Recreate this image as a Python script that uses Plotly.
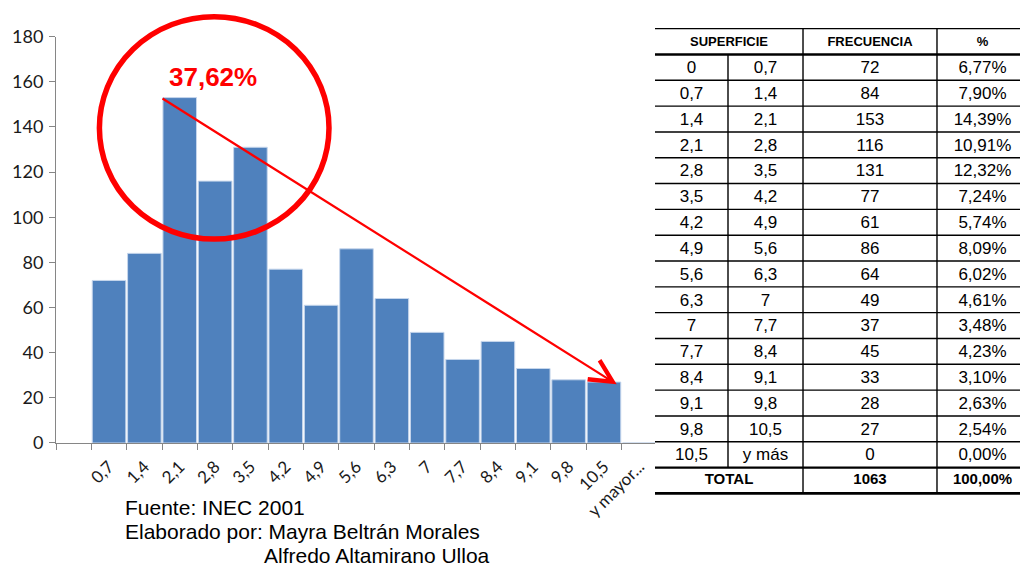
import plotly.graph_objects as go

# ---------------- data ----------------
bin_labels = ["0,7", "1,4", "2,1", "2,8", "3,5", "4,2", "4,9", "5,6", "6,3", "7",
              "7,7", "8,4", "9,1", "9,8", "10,5", "y mayor..."]
frequencies = [72, 84, 153, 116, 131, 77, 61, 86, 64, 49, 37, 45, 33, 28, 27, 0]
blank_category = " "

table_from = ["0", "0,7", "1,4", "2,1", "2,8", "3,5", "4,2", "4,9", "5,6", "6,3",
              "7", "7,7", "8,4", "9,1", "9,8", "10,5"]
table_to = ["0,7", "1,4", "2,1", "2,8", "3,5", "4,2", "4,9", "5,6", "6,3", "7",
            "7,7", "8,4", "9,1", "9,8", "10,5", "y más"]
table_freq = ["72", "84", "153", "116", "131", "77", "61", "86", "64", "49",
              "37", "45", "33", "28", "27", "0"]
table_pct = ["6,77%", "7,90%", "14,39%", "10,91%", "12,32%", "7,24%", "5,74%", "8,09%",
             "6,02%", "4,61%", "3,48%", "4,23%", "3,10%", "2,63%", "2,54%", "0,00%"]
header_labels = ["SUPERFICIE", "FRECUENCIA", "%"]
total_labels = ["TOTAL", "1063", "100,00%"]
highlight_text = "37,62%"
source_lines = ["Fuente: INEC 2001", "Elaborado por: Mayra Beltrán Morales", "Alfredo Altamirano Ulloa"]

# ---------------- layout constants ----------------
OFF = 8                      # page body margin of the browser
W, H = 1028 - OFF, 567 - OFF
MT, MB = 10, 50
PH = H - MT - MB


def px_(x):  # window pixel x -> paper x
    return (x - OFF) / W


def py(y):  # window pixel y -> paper y
    return (H - MB - (y - OFF)) / PH


col_edges = [0.0, 0.1957, 0.3968, 0.756, 1.0]
n_rows = len(table_from) + 2
row_px = 25.92
pad = 0.2

fig = go.Figure()

# bars
fig.add_trace(go.Bar(
    x=bin_labels, y=frequencies,
    marker=dict(color="#4F81BD", line=dict(color="#C6D6EC", width=1)),
    xaxis="x", yaxis="y", showlegend=False,
))

# table texts
ncols_c = [(col_edges[i] + col_edges[i + 1]) / 2 for i in range(4)]
merged_c = (col_edges[0] + col_edges[2]) / 2
data_font = dict(family="Liberation Sans, Arial", size=17, color="black")
rows_y = [i + 1 + 0.56 for i in range(len(table_from))]
for col, vals in enumerate([table_from, table_to, table_freq, table_pct]):
    fig.add_trace(go.Scatter(
        x=[ncols_c[col]] * len(vals), y=rows_y, text=vals, mode="text",
        textfont=data_font, xaxis="x2", yaxis="y2", showlegend=False,
        cliponaxis=False, hoverinfo="skip",
    ))
fig.add_trace(go.Scatter(
    x=[merged_c, ncols_c[2], ncols_c[3]], y=[0.55] * 3, text=header_labels, mode="text",
    textfont=dict(family="Liberation Sans, Arial", size=13, color="black", weight="bold"),
    xaxis="x2", yaxis="y2", showlegend=False, cliponaxis=False, hoverinfo="skip",
))
fig.add_trace(go.Scatter(
    x=[merged_c, ncols_c[2], ncols_c[3]], y=[n_rows - 1 + 0.5] * 3, text=total_labels,
    mode="text",
    textfont=dict(family="Liberation Sans, Arial", size=15, color="black", weight="bold"),
    xaxis="x2", yaxis="y2", showlegend=False, cliponaxis=False, hoverinfo="skip",
))

shapes = []
# horizontal table lines
for r in range(n_rows + 1):
    if r in (1, n_rows):
        w = 2.6
    elif r == n_rows - 1:
        w = 2.2
    else:
        w = 1.4
    shapes.append(dict(type="line", xref="x2", yref="y2", x0=0, x1=1, y0=r, y1=r,
                       line=dict(color="black", width=w)))
# vertical table lines
shapes.append(dict(type="line", xref="x2", yref="y2", x0=col_edges[1], x1=col_edges[1],
                   y0=1, y1=n_rows - 1, line=dict(color="black", width=1.4)))
for c in (2, 3):
    shapes.append(dict(type="line", xref="x2", yref="y2", x0=col_edges[c], x1=col_edges[c],
                       y0=0, y1=n_rows, line=dict(color="black", width=1.4)))

# red circle
shapes.append(dict(type="circle", xref="paper", yref="paper",
                   x0=px_(99.4), x1=px_(329), y0=py(238), y1=py(14.7),
                   line=dict(color="#FF0000", width=5.5)))

annotations = []
# arrow from tallest bar to last bar
annotations.append(dict(
    x=15.36, y=26, xref="x", yref="y",
    ax=2 + 0.47, ay=frequencies[2], axref="x", ayref="y",
    text="", showarrow=True, arrowhead=5, arrowsize=2.0, arrowwidth=2.2,
    arrowcolor="#FF0000", standoff=0,
))
annotations.append(dict(
    x=px_(213), y=py(75), xref="paper", yref="paper", text=highlight_text, showarrow=False,
    font=dict(family="Liberation Sans, Arial", size=26, color="#FF0000", weight="bold"),
    xanchor="center", yanchor="middle",
))
src_font = dict(family="Liberation Sans, Arial", size=21, color="black")
for line_txt, xpx, ypx in zip(source_lines, [123, 123, 262], [507, 532, 556]):
    annotations.append(dict(
        x=px_(xpx), y=py(ypx), xref="paper", yref="paper", text=line_txt, showarrow=False,
        font=src_font, xanchor="left", yanchor="middle",
    ))

fig.update_layout(
    width=W, height=H,
    margin=dict(l=0, r=0, t=MT, b=MB),
    paper_bgcolor="white", plot_bgcolor="white",
    bargap=0.05,
    xaxis=dict(
        domain=[px_(56), px_(657)], type="category",
        categoryorder="array", categoryarray=[blank_category] + bin_labels,
        range=[-0.5, len(bin_labels) + 0.5],
        tickson="boundaries", ticks="outside", ticklen=6, tickcolor="#868686",
        showline=True, linecolor="#868686", linewidth=1,
        tickangle=-45, tickfont=dict(family="Lato", size=17, color="#1a1a1a"),
        showgrid=False, zeroline=False, anchor="y", ticklabelstandoff=6,
    ),
    yaxis=dict(
        domain=[py(442.7), py(34.7)], range=[0, 180], dtick=20,
        ticks="outside", ticklen=6, tickcolor="#868686",
        showline=True, linecolor="#868686", linewidth=1,
        tickfont=dict(family="Lato", size=18, color="#1a1a1a"),
        showgrid=False, zeroline=False, anchor="x", ticklabelstandoff=2,
    ),
    xaxis2=dict(domain=[px_(655), 1.0], range=[0, 1], visible=False, anchor="y2"),
    yaxis2=dict(domain=[py(493.3 + pad * row_px), py(26.7 - pad * row_px)],
                range=[n_rows + pad, -pad], visible=False, anchor="x2"),
    shapes=shapes,
    annotations=annotations,
)

fig.write_html("out.html")
